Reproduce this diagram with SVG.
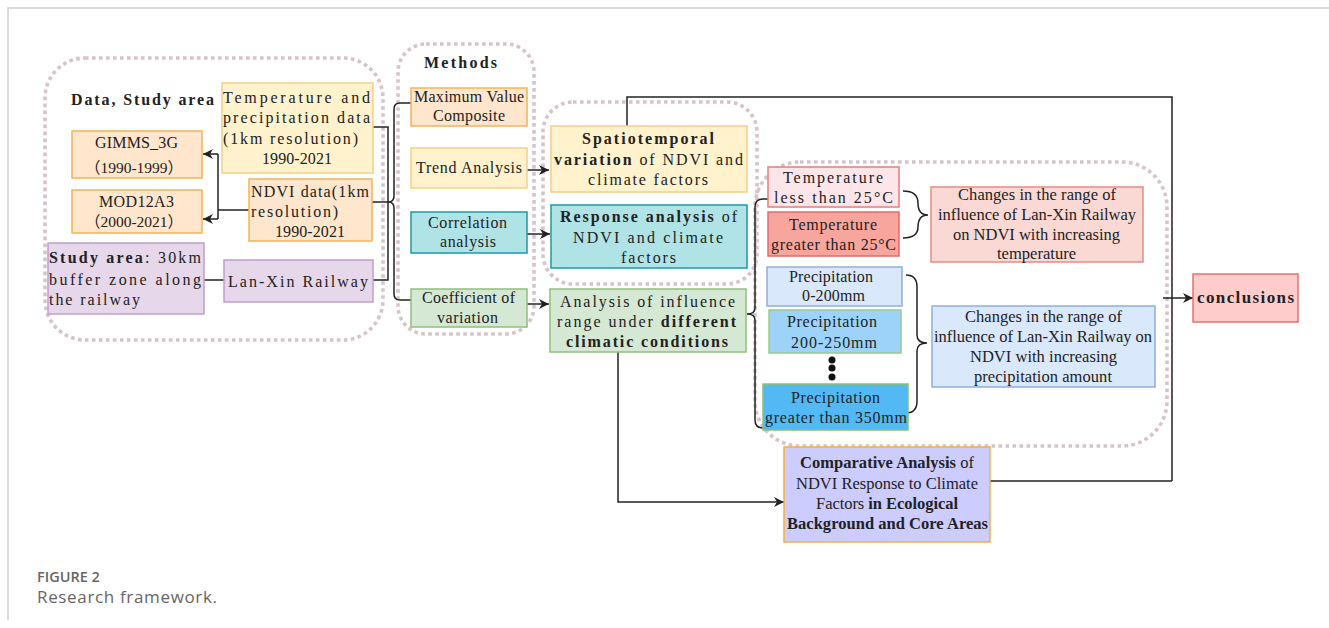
<svg xmlns="http://www.w3.org/2000/svg" width="1329" height="628" viewBox="0 0 1329 628">
<style>
text{font-family:"Liberation Serif","Noto Sans CJK SC",serif;font-size:16px;fill:#222;}
.b{font-weight:bold;}
.r{font-size:16.5px;}
.fw{font-size:15.5px;}
.cap1{font-family:"Open Sans","Liberation Sans",sans-serif;font-size:14.5px;font-weight:600;fill:#666;}
.cap2{font-family:"Open Sans","Liberation Sans",sans-serif;font-size:17px;fill:#666;}
.grp{fill:none;stroke:#d6c4ca;stroke-width:3.6;stroke-dasharray:3.6 3.4;}
.yel{fill:#fff2cc;stroke:#f3cf86;stroke-width:1.5;}
.org{fill:#ffe6cc;stroke:#f4b455;stroke-width:1.5;}
.pur{fill:#e6d7ea;stroke:#bf9fcc;stroke-width:1.5;}
.tea{fill:#b0e3e6;stroke:#1b9aa2;stroke-width:1.5;}
.grn{fill:#d5e8d4;stroke:#8fc07a;stroke-width:1.5;}
.pk1{fill:#fde6ea;stroke:#e47e80;stroke-width:1.5;}
.pk2{fill:#f7a59d;stroke:#e36b69;stroke-width:1.5;}
.pk3{fill:#fad9d5;stroke:#e88a82;stroke-width:1.5;}
.bl1{fill:#dae8fc;stroke:#8eaedb;stroke-width:1.5;}
.bl2{fill:#9dd3f8;stroke:#9cca86;stroke-width:1.5;}
.bl3{fill:#52b9f5;stroke:#8cc072;stroke-width:1.5;}
.vio{fill:#ccccff;stroke:#f3b040;stroke-width:1.5;}
.con{fill:#ffcccc;stroke:#e87070;stroke-width:1.5;}
.ln{fill:none;stroke:#222;stroke-width:1.5;}
.ar{marker-end:url(#arr);}
</style>
<defs>
<marker id="arr" markerUnits="userSpaceOnUse" markerWidth="11" markerHeight="10" refX="10" refY="5" orient="auto">
<path d="M0,0 L10,5 L0,10 L3,5 z" fill="#222"/>
</marker>
</defs>
<path d="M8,620 V8 H1329" fill="none" stroke="#cfcfcf" stroke-width="1.5"/>

<g id="containers">
<rect class="grp" x="45" y="58" width="338" height="282" rx="40"/>
<rect class="grp" x="398" y="44" width="136" height="290" rx="28"/>
<rect class="grp" x="543" y="102" width="214" height="182" rx="30"/>
<rect class="grp" x="755" y="162" width="412" height="284" rx="45"/>
</g>

<g id="connectors">
<path class="ln" d="M249,210 H218"/>
<path class="ln" d="M218,154 V219"/>
<path class="ln ar" d="M218,154 H203"/>
<path class="ln ar" d="M218,219 H203"/>
<path class="ln" d="M204,280 H224"/>
<path class="ln" d="M373,127 H388 V280 H373 M372,202 H388"/>
<path class="ln" d="M411,103 H400 Q394,103 394,109 V196 Q394,202 388,202 Q394,202 394,208 V294 Q394,300 400,300 H411"/>
<path class="ln ar" d="M527,170 H549"/>
<path class="ln ar" d="M527,234 H550"/>
<path class="ln ar" d="M527,304 H549"/>
<path class="ln" d="M627,126 V97 H1172 V481"/>
<path class="ln" d="M990,481 H1172"/>
<path class="ln ar" d="M1163,298 H1193"/>
<path class="ln ar" d="M618,352 V502 H784"/>
<path class="ln" d="M768,199 H763 Q755,199 755,207 V308 Q755,314 747,314 Q755,314 755,320 V420 Q755,428 763,428 H765"/>
<path class="ln" d="M903,191 Q918,191 918,203 Q918,215 928,215 Q918,215 918,227 Q918,238 903,238"/>
<path class="ln" d="M906,275 Q917,275 917,287 V335 Q917,343 927,343 Q917,343 917,351 V401 Q917,413 906,413"/>
</g>

<g id="data-label"><text class="b" x="71" y="105" textLength="143">Data, Study area</text></g>

<g id="temp-precip-data">
<rect class="yel" x="222" y="83" width="151" height="90"/>
<text x="223" y="103" textLength="147">Temperature and</text>
<text x="223" y="123" textLength="147">precipitation data</text>
<text x="223" y="144" textLength="135">(1km resolution)</text>
<text x="262" y="164" textLength="70">1990-2021</text>
</g>

<g id="gimms">
<rect class="org" x="72" y="131" width="130" height="47"/>
<text x="95" y="148" textLength="83">GIMMS_3G</text>
<text class="fw" x="134" y="173" text-anchor="middle">（1990-1999）</text>
</g>

<g id="mod12a3">
<rect class="org" x="72" y="190" width="130" height="43"/>
<text x="99" y="207" textLength="75">MOD12A3</text>
<text class="fw" x="134" y="227" text-anchor="middle">（2000-2021）</text>
</g>

<g id="ndvi-data">
<rect class="org" x="249" y="179" width="123" height="62"/>
<text x="251" y="197" textLength="118">NDVI data(1km</text>
<text x="251" y="217" textLength="87">resolution)</text>
<text x="275" y="237" textLength="70">1990-2021</text>
</g>

<g id="study-area">
<rect class="pur" x="48" y="243" width="156" height="71"/>
<text x="49" y="263" textLength="152"><tspan class="b">Study area</tspan>: 30km</text>
<text x="49" y="285" textLength="152">buffer zone along</text>
<text x="49" y="305" textLength="91">the railway</text>
</g>

<g id="lan-xin">
<rect class="pur" x="224" y="260" width="149" height="42"/>
<text x="228" y="287" textLength="140">Lan-Xin Railway</text>
</g>

<g id="methods-label"><text class="b" x="424" y="68" textLength="73">Methods</text></g>

<g id="mvc">
<rect class="org" x="411" y="88" width="116" height="38"/>
<text x="414" y="102" textLength="110">Maximum Value</text>
<text x="433" y="121" textLength="72">Composite</text>
</g>

<g id="trend">
<rect class="yel" x="411" y="148" width="116" height="40"/>
<text x="416" y="173" textLength="106">Trend Analysis</text>
</g>

<g id="correlation">
<rect class="tea" x="411" y="212" width="116" height="41"/>
<text x="428" y="228" textLength="79">Correlation</text>
<text x="440" y="247" textLength="56">analysis</text>
</g>

<g id="cov">
<rect class="grn" x="411" y="289" width="116" height="38"/>
<text x="422" y="303" textLength="93">Coefficient of</text>
<text x="437" y="323" textLength="61">variation</text>
</g>

<g id="spatiotemporal">
<rect class="yel" x="551" y="126" width="196" height="66"/>
<text class="b" x="582" y="144" textLength="132">Spatiotemporal</text>
<text x="554" y="165" textLength="189"><tspan class="b">variation</tspan> of NDVI and</text>
<text x="588" y="185" textLength="120">climate factors</text>
</g>

<g id="response">
<rect class="tea" x="551" y="205" width="196" height="63"/>
<text x="560" y="222" textLength="177"><tspan class="b">Response analysis</tspan> of</text>
<text x="573" y="243" textLength="150">NDVI and climate</text>
<text x="621" y="263" textLength="55">factors</text>
</g>

<g id="influence-range">
<rect class="grn" x="550" y="289" width="196" height="63"/>
<text x="560" y="307" textLength="175">Analysis of influence</text>
<text x="557" y="327" textLength="179">range under <tspan class="b">different</tspan></text>
<text class="b" x="566" y="347" textLength="162">climatic conditions</text>
</g>

<g id="temp-low">
<rect class="pk1" x="768" y="167" width="131" height="40"/>
<text x="783" y="183" textLength="100">Temperature</text>
<text x="774" y="203" textLength="119">less than 25°C</text>
</g>

<g id="temp-high">
<rect class="pk2" x="768" y="212" width="131" height="44"/>
<text x="789" y="230" textLength="88">Temperature</text>
<text x="771" y="250" textLength="125">greater than 25°C</text>
</g>

<g id="temp-changes">
<rect class="pk3" x="931" y="187" width="212" height="75"/>
<text class="r" x="958" y="200" textLength="158">Changes in the range of</text>
<text class="r" x="938" y="220" textLength="198">influence of Lan-Xin Railway</text>
<text class="r" x="953" y="240" textLength="167">on NDVI with increasing</text>
<text class="r" x="997" y="259" textLength="79">temperature</text>
</g>

<g id="precip-1">
<rect class="bl1" x="767" y="267" width="135" height="39"/>
<text x="789" y="282" textLength="84">Precipitation</text>
<text x="802" y="301" textLength="63">0-200mm</text>
</g>

<g id="precip-2">
<rect class="bl2" x="769" y="310" width="132" height="43"/>
<text x="787" y="327" textLength="90">Precipitation</text>
<text x="791" y="348" textLength="86">200-250mm</text>
</g>

<g id="ellipsis">
<circle cx="832" cy="360" r="3.5" fill="#111"/>
<circle cx="832" cy="368" r="3.5" fill="#111"/>
<circle cx="832" cy="377" r="3.5" fill="#111"/>
</g>

<g id="precip-3">
<rect class="bl3" x="763" y="384" width="145" height="46"/>
<text x="791" y="403" textLength="89">Precipitation</text>
<text x="765" y="423" textLength="142">greater than 350mm</text>
</g>

<g id="precip-changes">
<rect class="bl1" x="932" y="306" width="223" height="81"/>
<text class="r" x="965" y="322" textLength="157">Changes in the range of</text>
<text class="r" x="934" y="342" textLength="218">influence of Lan-Xin Railway on</text>
<text class="r" x="970" y="362" textLength="147">NDVI with increasing</text>
<text class="r" x="974" y="382" textLength="138">precipitation amount</text>
</g>

<g id="comparative">
<rect class="vio" x="784" y="447" width="206" height="95"/>
<text class="r" x="800" y="468" textLength="174"><tspan class="b">Comparative Analysis</tspan> of</text>
<text class="r" x="796" y="489" textLength="182">NDVI Response to Climate</text>
<text class="r" x="816" y="509" textLength="142">Factors <tspan class="b">in Ecological</tspan></text>
<text class="r b" x="787" y="529" textLength="201">Background and Core Areas</text>
</g>

<g id="conclusions">
<rect class="con" x="1193" y="274" width="105" height="48"/>
<text class="b" x="1197" y="303" textLength="97" style="font-size:17px">conclusions</text>
</g>

<g id="caption">
<text class="cap1" x="37" y="582">FIGURE 2</text>
<text class="cap2" x="37" y="603" textLength="180">Research framework.</text>
</g>
</svg>
